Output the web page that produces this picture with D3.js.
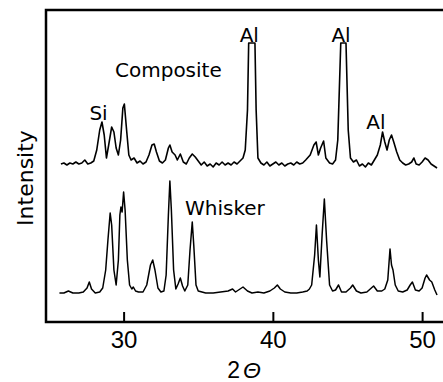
<!DOCTYPE html>
<html>
<head>
<meta charset="utf-8">
<script src="https://cdn.jsdelivr.net/npm/d3@7"></script>
<style>
  body { margin: 0; background: #fff; }
  svg { display: block; }
  text { font-family: "DejaVu Sans", sans-serif; fill: #000; }
</style>
</head>
<body>
<svg id="chart" width="443" height="382"></svg>
<script>
// 2-theta (deg) and intensity (arb. units)
var compTheta = [25.8,26.0,26.2,26.4,26.6,26.8,27.0,27.2,27.4,27.6,27.8,28.0,28.2,28.4,28.55,28.7,28.85,29.0,29.2,29.35,29.5,29.65,29.8,29.95,30.05,30.2,30.35,30.5,30.7,30.9,31.1,31.3,31.5,31.7,31.9,32.05,32.2,32.4,32.6,32.8,33.0,33.1,33.25,33.45,33.6,33.8,34.0,34.2,34.4,34.6,34.8,35.0,35.2,35.4,35.6,35.8,36.0,36.2,36.4,36.6,36.8,37.0,37.2,37.4,37.6,37.8,38.0,38.15,38.3,38.38,38.8,38.88,39.0,39.2,39.4,39.6,39.8,40.0,40.2,40.4,40.6,40.8,41.0,41.2,41.4,41.6,41.8,42.0,42.2,42.5,42.75,42.9,43.05,43.2,43.4,43.55,43.8,44.0,44.2,44.35,44.55,44.9,45.05,45.2,45.4,45.6,45.8,46.0,46.2,46.4,46.6,46.8,47.0,47.2,47.35,47.5,47.65,47.8,47.95,48.1,48.3,48.5,48.7,48.9,49.1,49.3,49.45,49.6,49.8,50.0,50.2,50.4,50.6,50.8,51.0];
var compInt = [158,159,157,159,158,160,158,159,162,158,159,161,172,192,200,187,164,177,195,190,174,167,182,214,218,192,167,162,164,159,161,158,160,167,177,178,170,161,159,162,174,177,170,167,162,168,160,158,164,168,165,161,157,160,156,158,155,159,157,160,157,159,157,160,158,161,164,172,212,279,279,212,164,159,157,160,156,158,160,157,159,156,158,159,157,160,158,159,162,167,177,180,167,174,181,164,159,158,162,182,279,279,192,164,160,162,156,158,155,159,157,162,167,177,190,180,172,182,187,180,170,162,159,157,158,160,164,158,157,160,164,162,158,156,154];

var whiskTheta = [25.7,26.0,26.3,26.6,27.0,27.3,27.55,27.7,27.85,28.1,28.4,28.6,28.8,28.95,29.1,29.2,29.35,29.5,29.65,29.75,29.82,29.9,30.0,30.1,30.25,30.4,30.55,30.65,30.8,31.0,31.3,31.55,31.8,31.95,32.1,32.3,32.5,32.7,32.85,33.0,33.1,33.2,33.35,33.5,33.65,33.8,33.95,34.1,34.3,34.45,34.6,34.7,34.85,35.0,35.5,36.0,36.5,37.0,37.3,37.5,37.8,38.0,38.3,38.6,39.0,39.4,39.8,40.1,40.3,40.5,40.8,41.2,41.6,42.0,42.3,42.45,42.6,42.8,42.92,43.05,43.15,43.3,43.45,43.6,43.8,44.0,44.2,44.4,44.6,44.9,45.2,45.35,45.6,45.9,46.3,46.6,46.75,47.0,47.3,47.5,47.7,47.85,47.95,48.05,48.2,48.4,48.7,49.0,49.2,49.35,49.55,49.8,50.0,50.2,50.3,50.5,50.65,50.85,51.0];
var whiskInt = [29,29,31,29,29,30,34,40,33,29,30,34,52,82,109,97,52,37,62,107,115,110,130,112,62,37,33,35,31,30,30,37,57,62,52,34,30,31,47,107,141,112,52,33,38,44,36,31,37,72,100,77,37,31,29,29,30,31,33,30,33,35,31,29,30,29,31,34,37,33,30,29,29,30,31,33,37,67,97,62,45,87,123,82,37,31,32,37,30,30,34,37,31,29,30,34,36,31,31,33,42,73,57,52,37,31,30,32,37,40,32,31,34,44,47,42,40,32,27];

var xTicks = [30, 40, 50];

// peak labels: text, 2-theta, intensity at the text baseline
var peakLabels = [
  {text: "Si", t: 28.32, i: 202},
  {text: "Al", t: 38.42, i: 280},
  {text: "Al", t: 44.57, i: 280},
  {text: "Al", t: 46.9, i: 193}
];

var svg = d3.select("#chart");
var plotLeft = 46, plotRight = 443, plotTop = 10, plotBottom = 322;

var x = d3.scaleLinear().domain([24.8, 51.4]).range([plotLeft, plotRight]);
var y = d3.scaleLinear().domain([0, 312]).range([plotBottom, plotTop]);

var line = d3.line()
  .x(function(d) { return x(d[0]); })
  .y(function(d) { return y(d[1]); });

svg.append("path")
  .datum(d3.zip(compTheta, compInt))
  .attr("d", line)
  .attr("fill", "none")
  .attr("stroke", "#000")
  .attr("stroke-width", 1.6)
  .attr("stroke-linejoin", "round");

svg.append("path")
  .datum(d3.zip(whiskTheta, whiskInt))
  .attr("d", line)
  .attr("fill", "none")
  .attr("stroke", "#000")
  .attr("stroke-width", 1.5)
  .attr("stroke-linejoin", "round");

// frame: left, top, bottom (open on the right)
svg.append("path")
  .attr("d", "M" + plotRight + "," + plotTop + "H" + plotLeft + "V" + plotBottom + "H" + plotRight)
  .attr("fill", "none")
  .attr("stroke", "#000")
  .attr("stroke-width", 2.5);

var xAxis = d3.axisBottom(x)
  .tickValues(xTicks)
  .tickSize(-10)
  .tickPadding(24)
  .tickSizeOuter(0);

var gx = svg.append("g")
  .attr("transform", "translate(0," + plotBottom + ")")
  .call(xAxis);
gx.select(".domain").remove();
gx.selectAll(".tick line").attr("stroke-width", 2);
gx.selectAll(".tick text")
  .attr("dy", "0")
  .attr("y", 26)
  .style("font-family", "'Liberation Sans', sans-serif")
  .style("font-size", "24px")
  .attr("fill", "#000");

svg.append("text")
  .attr("x", 244)
  .attr("y", 378)
  .attr("text-anchor", "middle")
  .style("font-family", "'Liberation Sans', sans-serif")
  .style("font-size", "23px")
  .html('2<tspan dx="3" font-style="italic">Θ</tspan>');

svg.append("text")
  .attr("transform", "translate(33,178) rotate(-90)")
  .attr("text-anchor", "middle")
  .style("font-size", "22px")
  .text("Intensity");

svg.append("text")
  .attr("x", 115).attr("y", 77)
  .style("font-size", "20px")
  .text("Composite");

svg.append("text")
  .attr("x", 185).attr("y", 215)
  .style("font-size", "20px")
  .text("Whisker");

svg.selectAll(".peak")
  .data(peakLabels)
  .enter()
  .append("text")
  .attr("class", "peak")
  .attr("x", function(d) { return x(d.t); })
  .attr("y", function(d) { return y(d.i); })
  .attr("text-anchor", "middle")
  .style("font-size", "20px")
  .text(function(d) { return d.text; });
</script>
</body>
</html>
